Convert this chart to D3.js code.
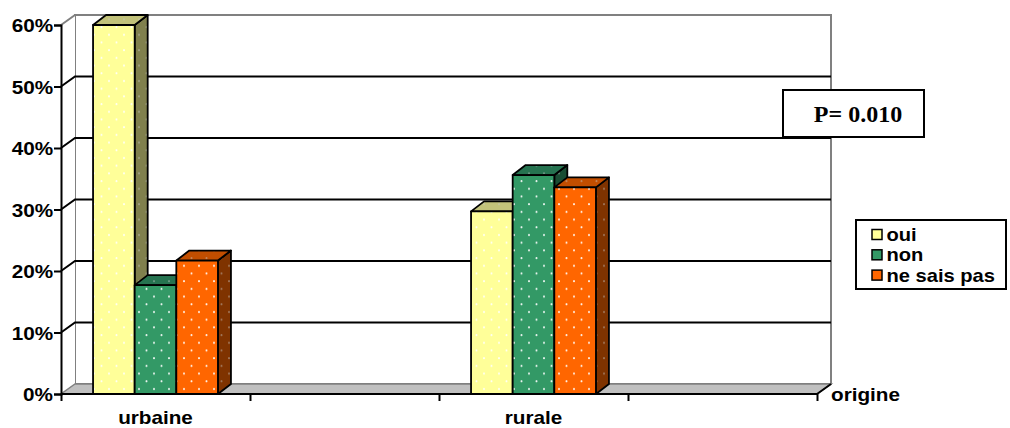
<!DOCTYPE html>
<html>
<head>
<meta charset="utf-8">
<script src="https://cdn.jsdelivr.net/npm/d3@7"></script>
<style>
  html, body { margin: 0; padding: 0; background: #fff; }
  svg { display: block; }
</style>
</head>
<body>
<svg id="chart" width="1010" height="428"></svg>
<script>
// Category slots along the x axis (every other slot carries no label)
const xSlots = ["urbaine", "", "rurale", ""];
const categories = ["urbaine", "rurale"];
const seriesNames = ["oui", "non", "ne sais pas"];
// Percentages per category, in the order of `categories`
const oui = [60.0, 29.7];
const non = [17.7, 35.6];
const neSaisPas = [21.7, 33.6];
const yTicks = [0, 10, 20, 30, 40, 50, 60];
const pValueLabel = "P= 0.010";
const axisTitle = "origine";

const seriesValues = [oui, non, neSaisPas];
const faceColors = [
  { front: "#FFFF99", top: "#C2C27A", side: "#80804D" },
  { front: "#339966", top: "#267350", side: "#1A4D33" },
  { front: "#FF6600", top: "#C24E00", side: "#7F3300" }
];

const svg = d3.select("#chart");
const SX = 1.15;                    // horizontal stretch of label text
const FONT = "'Liberation Sans', Arial, sans-serif";
const LABEL_SIZE = 18;

// Plot frame: front face of the box and its depth offset
const x0 = 61, x1 = 817, yBottom = 394, yTop = 25;
const WX = 14, WY = -10;            // wall depth
const BX = 13, BY = -10;            // bar depth

const y = d3.scaleLinear().domain([0, 60]).range([yBottom, yTop]);
const xSlot = d3.scaleBand().domain(d3.range(xSlots.length)).range([x0, x1]).padding(0);
const xSeries = d3.scaleBand().domain(d3.range(seriesNames.length))
  .range([0, xSlot.bandwidth()]).paddingInner(0).paddingOuter(0.77);
const xEdge = d3.scaleLinear().domain([0, xSlots.length]).range([x0, x1]);

// Dotted fill patterns for every face
const defs = svg.append("defs");
faceColors.forEach((c, i) => {
  ["front", "top", "side"].forEach(face => {
    const p = defs.append("pattern")
      .attr("id", `pat-${i}-${face}`)
      .attr("patternUnits", "userSpaceOnUse")
      .attr("width", 15).attr("height", 15.4);
    p.append("rect").attr("width", 15).attr("height", 15.4).attr("fill", c[face]);
    const dotFill = face === "front" ? "rgba(255,255,255,0.9)" : "rgba(200,200,200,0.45)";
    [[4, 4], [11.5, 11.7]].forEach(([cx, cy]) => {
      p.append("circle").attr("cx", cx).attr("cy", cy).attr("r", 1).attr("fill", dotFill);
    });
  });
});

// Back wall
svg.append("rect")
  .attr("x", x0 + WX).attr("y", yTop + WY)
  .attr("width", x1 - x0).attr("height", yBottom - yTop)
  .attr("fill", "#fff").attr("stroke", "#808080").attr("stroke-width", 2);

// Left wall
svg.append("path")
  .attr("d", `M${x0},${yTop} L${x0 + WX},${yTop + WY} L${x0 + WX},${yBottom + WY} L${x0},${yBottom} Z`)
  .attr("fill", "#fff").attr("stroke", "none");
svg.append("line")
  .attr("x1", x0).attr("y1", yTop).attr("x2", x0 + WX).attr("y2", yTop + WY)
  .attr("stroke", "#808080").attr("stroke-width", 2);

// Gridlines on the back wall and the left wall
const gridVals = yTicks.filter(v => v > 0 && v < 60);
svg.append("g").selectAll("path").data(gridVals).join("path")
  .attr("d", v => `M${x0},${y(v)} L${x0 + WX},${y(v) + WY} L${x1 + WX},${y(v) + WY}`)
  .attr("fill", "none").attr("stroke", "#000").attr("stroke-width", 2);

// Floor
svg.append("path")
  .attr("d", `M${x0},${yBottom} L${x1},${yBottom} L${x1 + WX},${yBottom + WY} L${x0 + WX},${yBottom + WY} Z`)
  .attr("fill", "#C0C0C0").attr("stroke", "#808080").attr("stroke-width", 1.5);
svg.append("line")
  .attr("x1", x1).attr("y1", yBottom).attr("x2", x1 + WX).attr("y2", yBottom + WY)
  .attr("stroke", "#000").attr("stroke-width", 2);

// Bars, painted left to right so each front face hides its left neighbour's side
const bars = [];
categories.forEach((cat, ci) => {
  const slot = xSlots.indexOf(cat);
  seriesValues.forEach((vals, si) => {
    bars.push({ slot, si, v: vals[ci] });
  });
});
const gBars = svg.append("g");
bars.forEach(b => {
  const bx = xSlot(b.slot) + xSeries(b.si);
  const w = xSeries.bandwidth();
  const yt = y(b.v), yb = y(0);
  const g = gBars.append("g")
    .attr("stroke", "#000").attr("stroke-width", 1.8).attr("stroke-linejoin", "round");
  g.append("path")
    .attr("d", `M${bx + w},${yt} L${bx + w + BX},${yt + BY} L${bx + w + BX},${yb + BY} L${bx + w},${yb} Z`)
    .attr("fill", `url(#pat-${b.si}-side)`);
  g.append("path")
    .attr("d", `M${bx},${yt} L${bx + w},${yt} L${bx + w + BX},${yt + BY} L${bx + BX},${yt + BY} Z`)
    .attr("fill", `url(#pat-${b.si}-top)`);
  g.append("rect")
    .attr("x", bx).attr("y", yt).attr("width", w).attr("height", yb - yt)
    .attr("fill", `url(#pat-${b.si}-front)`);
});

// Value axis
const yAxis = svg.append("g")
  .attr("transform", `translate(${x0},0)`)
  .call(d3.axisLeft(y).tickValues(yTicks).tickFormat(d => d + "%").tickSize(7).tickPadding(1));
yAxis.select(".domain").attr("stroke", "#000").attr("stroke-width", 2);
yAxis.selectAll(".tick line").attr("stroke", "#000").attr("stroke-width", 2);
yAxis.selectAll(".tick text")
  .attr("x", -8 / SX).attr("dy", "0.37em")
  .attr("transform", `scale(${SX},1)`)
  .attr("fill", "#000")
  .style("font-family", FONT).style("font-weight", "bold").style("font-size", LABEL_SIZE + "px");

// Category axis
const xAxis = svg.append("g")
  .attr("transform", `translate(0,${yBottom})`)
  .call(d3.axisBottom(xEdge).tickValues(d3.range(xSlots.length + 1)).tickFormat("").tickSize(7));
xAxis.select(".domain").attr("stroke", "#000").attr("stroke-width", 2)
  .attr("d", `M${x0},0H${x1}`);
xAxis.selectAll(".tick line").attr("stroke", "#000").attr("stroke-width", 2);

function stretchedText(parent, x, yPos, str, anchor, size, family) {
  return parent.append("text")
    .attr("transform", `translate(${x},${yPos}) scale(${SX},1)`)
    .attr("text-anchor", anchor)
    .style("font-family", family || FONT).style("font-weight", "bold")
    .style("font-size", size + "px")
    .attr("fill", "#000")
    .text(str);
}

xSlots.forEach((lab, i) => {
  if (lab) stretchedText(svg, xSlot(i) + xSlot.bandwidth() / 2, 424, lab, "middle", LABEL_SIZE);
});
stretchedText(svg, x1 + WX, 401, axisTitle, "start", LABEL_SIZE);

// P-value box
const pBox = svg.append("g");
pBox.append("rect").attr("x", 783).attr("y", 90).attr("width", 141).attr("height", 47)
  .attr("fill", "#fff").attr("stroke", "#000").attr("stroke-width", 2);
pBox.append("text").attr("x", 858).attr("y", 122).attr("text-anchor", "middle")
  .style("font-family", "'Liberation Serif', 'Times New Roman', serif")
  .style("font-weight", "bold").style("font-size", "24px")
  .text(pValueLabel);

// Legend
const legend = svg.append("g");
legend.append("rect").attr("x", 856).attr("y", 220).attr("width", 150).attr("height", 69)
  .attr("fill", "#fff").attr("stroke", "#000").attr("stroke-width", 2);
seriesNames.forEach((name, i) => {
  const ly = 241 + i * 20.3;
  legend.append("rect").attr("x", 872).attr("y", ly - 11.5).attr("width", 10).attr("height", 10)
    .attr("fill", faceColors[i].front).attr("stroke", "#000").attr("stroke-width", 1.5);
  stretchedText(legend, 886.5, ly, name, "start", 17.5);
});
</script>
</body>
</html>
